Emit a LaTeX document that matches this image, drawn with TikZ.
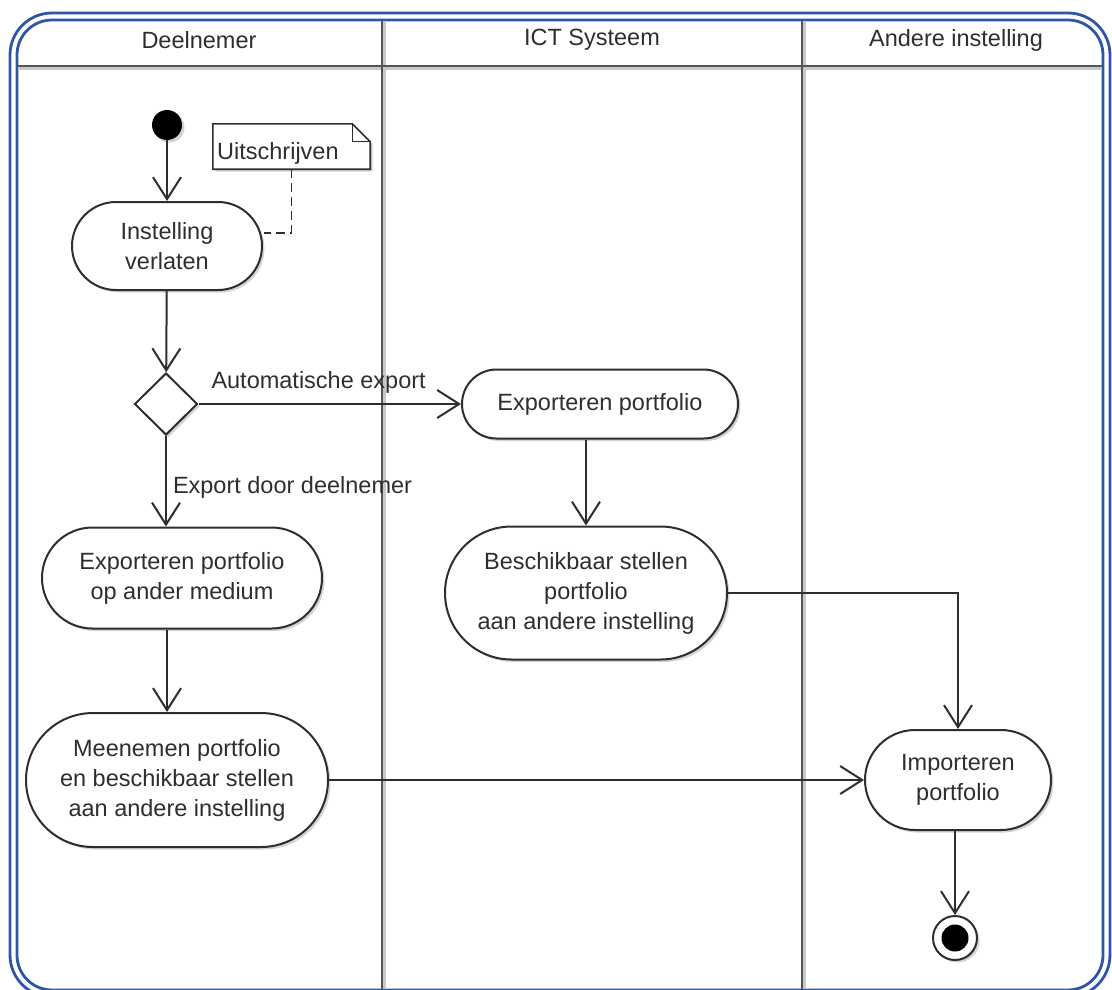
\documentclass[tikz,border=0pt]{standalone}
\usepackage{fontspec}
\setmainfont{Liberation Sans}
\usetikzlibrary{arrows.meta,shadows,shapes.geometric,calc}
\definecolor{frameblue}{HTML}{2F56A3}
\definecolor{ink}{HTML}{2E2E2E}
\definecolor{lanegray}{HTML}{555555}
\definecolor{laneshade}{HTML}{C8C8C8}
\begin{document}
\begin{tikzpicture}[x=1pt,y=-1pt,
  every node/.style={font=\fontsize{23.5}{30}\selectfont, text=ink},
  softshadow/.style={drop shadow={shadow xshift=2.5pt, shadow yshift=-2.5pt, opacity=0.35, fill=gray}},
  flow/.style={draw=ink, line width=2pt,
    -{Straight Barb[length=22pt,width=28pt,line width=2pt]}},
  act/.style 2 args={draw=ink, line width=2pt, fill=white, align=center,
    minimum width=#1, minimum height=#2, rounded corners=#2/2, inner sep=0pt, softshadow},
  guard/.style={inner sep=0pt, anchor=base west},
  lanesep/.style={draw=lanegray, line width=2.6pt},
  laneshadow/.style={draw=laneshade, line width=3pt},
]
\useasboundingbox (0,0) rectangle (1112,989);

% outer double frame
\begin{scope}
  \clip (0,0) rectangle (1112,989);
  \draw[frameblue, line width=2.8pt, rounded corners=42pt] (10,13) rectangle (1110,997);
  \draw[frameblue, line width=2.8pt, rounded corners=35pt] (17,20) rectangle (1103,990);
\end{scope}

% swimlane separators
\draw[laneshadow] (384.5,21) -- (384.5,989);
\draw[laneshadow] (804.5,21) -- (804.5,989);
\draw[laneshadow] (18,68.5) -- (1102,68.5);
\draw[lanesep] (18,66) -- (1102,66);
\draw[lanesep] (382,21) -- (382,989);
\draw[lanesep] (802,21) -- (802,989);

% lane headers
\node (h1) at (199,40) {Deelnemer};
\node (h2) at (592,40) {ICT Systeem};
\node (h3) at (956,40) {Andere instelling};

% initial node
\node[circle, fill=black, minimum size=30pt, inner sep=0pt, softshadow] (start) at (167,125) {};

% note
\node[minimum width=157pt, minimum height=45pt, inner sep=0pt] (note) at (291.5,146.5) {};
\fill[gray, opacity=0.35] ($(note.north west)+(2.5,2.5)$) -- ($(note.north east)+(-15.5,2.5)$)
  -- ($(note.north east)+(2.5,20.5)$) -- ($(note.south east)+(2.5,2.5)$)
  -- ($(note.south west)+(2.5,2.5)$) -- cycle;
\draw[ink, line width=1.6pt, fill=white] (note.north west) -- ($(note.north east)+(-18,0)$)
  -- ($(note.north east)+(0,18)$) -- (note.south east) -- (note.south west) -- cycle;
\draw[ink, line width=1.3pt] ($(note.north east)+(-18,0)$) -- ($(note.north east)+(-18,18)$)
  -- ($(note.north east)+(0,18)$);
\node[inner sep=0pt, anchor=west] (notetext) at (217,153) {Uitschrijven};

% actions
\node[act={190pt}{88pt}] (inst) at (167,246) {Instelling\\verlaten};
\node[diamond, draw=ink, line width=2pt, fill=white, inner sep=0pt,
      minimum width=63pt, minimum height=62pt, softshadow] (dec) at (166,404) {};
\node[act={276pt}{69pt}] (exp) at (600,404) {Exporteren portfolio};
\node[act={282pt}{133pt}] (besch) at (586,593) {Beschikbaar stellen\\portfolio\\aan andere instelling};
\node[act={280pt}{101pt}] (expm) at (182,578) {Exporteren portfolio\\op ander medium};
\node[act={302pt}{134pt}] (meen) at (177,780) {Meenemen portfolio\\en beschikbaar stellen\\aan andere instelling};
\node[act={186pt}{100pt}] (imp) at (958,780) {Importeren\\portfolio};

% final node
\node[circle, draw=ink, line width=2pt, fill=white, minimum size=44pt, inner sep=0pt, softshadow] (final) at (955,938) {};
\node[circle, fill=black, minimum size=27pt, inner sep=0pt] (finaldot) at (final.center) {};

% note anchor line
\coordinate (noteend) at (264,233);
\draw[ink, line width=1.6pt, dash pattern=on 9pt off 5pt] (note.south) |- (noteend);

% control flow
\draw[flow] (start) -- (inst);
\draw[flow] (inst) -- (dec);
\draw[flow] (dec.east) -- node[guard, pos=0, xshift=12pt, yshift=16pt] {Automatische export} (exp.west);
\draw[flow] (dec.south) -- node[guard, pos=0, xshift=6pt, yshift=-57pt] {Export door deelnemer} (dec.south |- expm.north);
\draw[flow] (exp.south -| besch.north) -- (besch.north);
\draw[flow] (besch.east) -| (imp.north);
\draw[flow] (expm.south -| start) -- (meen.north -| start);
\draw[flow] (meen.east) -- (imp.west);
\draw[flow] (imp.south -| final) -- (final.north);
\end{tikzpicture}
\end{document}
